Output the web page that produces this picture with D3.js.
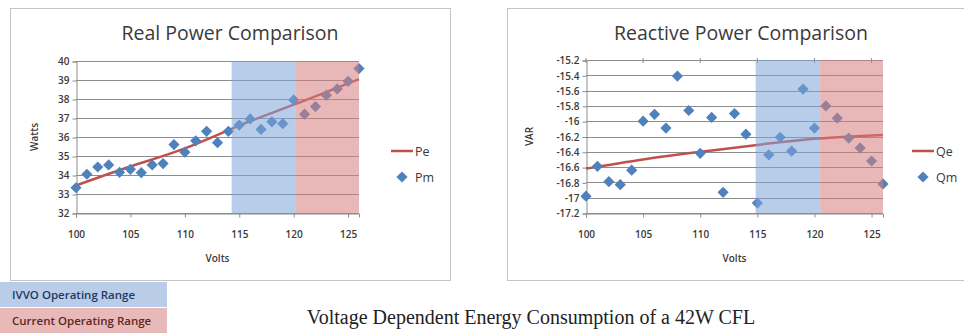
<!DOCTYPE html>
<html lang="en">
<head>
<meta charset="UTF-8">
<title>cfl-power</title>
<script src="https://d3js.org/d3.v7.min.js"></script>
<style>
    body { margin: 0; background: #fff; }
    svg text { font-family: "Open Sans", sans-serif; }
</style>
</head>
<body>
<script>
    // measured points, 1 V steps
    let volts = d3.range(100, 127);
    let pm = [33.33, 34.04, 34.42, 34.53, 34.14, 34.3, 34.12, 34.53, 34.6, 35.6, 35.2, 35.8, 36.3, 35.7,
              36.3, 36.63, 36.95, 36.4, 36.8, 36.7, 37.95, 37.2, 37.6, 38.2, 38.53, 38.93, 39.6];
    let qm = [-16.98, -16.59, -16.79, -16.83, -16.64, -16.0, -15.91, -16.09, -15.41, -15.86, -16.42, -15.95, -16.93, -15.9,
              -16.17, -17.07, -16.44, -16.21, -16.39, -15.58, -16.09, -15.8, -15.96, -16.22, -16.35, -16.52, -16.82];
    // estimated curves
    let estVolts = [100, 105, 110, 115, 120, 126];
    let pe = [33.45, 34.45, 35.4, 36.6, 37.7, 39.05];
    let qe = [-16.62, -16.5, -16.4, -16.31, -16.23, -16.18];

    let xTicks = [100, 105, 110, 115, 120, 125];
    let pTicks = d3.range(32, 41);
    let qTicks = [-15.2, -15.4, -15.6, -15.8, -16, -16.2, -16.4, -16.6, -16.8, -17, -17.2];

    let ivvoRange = [114.3, 120.2];
    let ivvoRangeQ = [114.85, 120.5];

    let blueBand = "#7ea4d7";
    let redBand = "#d57e7e";
    let lineColor = "#c0504d";
    let markColor = "#4f81bd";
    let textColor = "#3a3a3a";

    let svg = d3.select("body").append("svg")
        .attr("width", 964).attr("height", 333);

    function panel(o) {
        let g = svg.append("g");

        g.append("rect")
            .attr("x", o.box[0] + 0.5).attr("y", 8.5)
            .attr("width", o.box[1] - o.box[0]).attr("height", 272)
            .attr("fill", "#fff").attr("stroke", "#c4c4c4");

        let x = d3.scaleLinear().domain([100, 126]).range([o.left, o.right]);
        let y = d3.scaleLinear().domain(o.ydom).range([o.bottom, o.top]);

        g.append("text")
            .attr("x", o.titleX).attr("y", 40)
            .attr("text-anchor", "middle")
            .attr("font-size", 19.5).attr("fill", textColor)
            .text(o.title);

        // horizontal gridlines
        g.append("g").selectAll("line")
            .data(o.yticks).enter().append("line")
            .attr("x1", o.left).attr("x2", o.right)
            .attr("y1", d => Math.round(y(d)) + 0.5).attr("y2", d => Math.round(y(d)) + 0.5)
            .attr("stroke", "#8c8c8c").attr("stroke-width", 1);

        // y axis
        let yAxis = d3.axisLeft(y).tickValues(o.yticks).tickSize(4).tickFormat(d3.format("~g"));
        let ya = g.append("g").attr("transform", "translate(" + (o.left + 0.5) + ",0.5)").call(yAxis);
        ya.select(".domain").attr("stroke", "#8c8c8c");
        ya.selectAll(".tick line").attr("stroke", "#8c8c8c");
        ya.selectAll("text").attr("font-size", 10).attr("font-weight", 600).attr("fill", textColor)
            .text(d => d3.format("~g")(d).replace("−", "-"));

        // x axis
        let xAxis = d3.axisBottom(x).tickValues(xTicks).tickSize(4).tickPadding(13);
        let xa = g.append("g").attr("transform", "translate(0," + (o.bottom + 0.5) + ")").call(xAxis);
        xa.select(".domain").attr("stroke", "#8c8c8c");
        xa.selectAll(".tick line").attr("stroke", "#8c8c8c");
        xa.selectAll("text").attr("font-size", 10).attr("font-weight", 600).attr("fill", textColor);
        if (o.topTicks) {
            g.append("g").selectAll("line").data(xTicks).enter().append("line")
                .attr("x1", d => x(d)).attr("x2", d => x(d))
                .attr("y1", o.top - 2).attr("y2", o.top + 3)
                .attr("stroke", "#8c8c8c");
        }

        // estimated curve
        let line = d3.line()
            .x(d => x(d[0])).y(d => y(d[1]))
            .curve(d3.curveNatural);
        g.append("path")
            .datum(d3.zip(estVolts, o.est))
            .attr("d", line)
            .attr("fill", "none").attr("stroke", lineColor).attr("stroke-width", 2.5);

        // measured points
        let diamond = d3.symbol().type(d3.symbolDiamond2).size(80);
        g.append("g").selectAll("path")
            .data(d3.zip(volts, o.meas)).enter().append("path")
            .attr("d", diamond)
            .attr("transform", d => "translate(" + x(d[0]) + "," + y(d[1]) + ")")
            .attr("fill", markColor);

        // operating ranges drawn over the plot, translucent
        g.append("rect")
            .attr("x", x(o.band[0])).attr("y", o.top)
            .attr("width", x(o.band[1]) - x(o.band[0])).attr("height", o.bottom - o.top)
            .attr("fill", blueBand).attr("opacity", 0.55);
        g.append("rect")
            .attr("x", x(o.band[1])).attr("y", o.top)
            .attr("width", x(126) - x(o.band[1])).attr("height", o.bottom - o.top)
            .attr("fill", redBand).attr("opacity", 0.55);

        // axis titles
        g.append("text")
            .attr("x", (o.left + o.right) / 2).attr("y", 262)
            .attr("text-anchor", "middle").attr("font-size", 10).attr("font-weight", 600).attr("fill", textColor)
            .text("Volts");
        g.append("text")
            .attr("transform", "translate(" + o.yTitleX + "," + ((o.top + o.bottom) / 2) + ") rotate(-90)")
            .attr("text-anchor", "middle").attr("font-size", 10).attr("font-weight", 600).attr("fill", textColor)
            .text(o.yTitle);

        // legend
        let lg = g.append("g").attr("transform", "translate(" + o.legendX + ",0)");
        lg.append("line").attr("x1", 0).attr("x2", 22).attr("y1", 151).attr("y2", 151)
            .attr("stroke", lineColor).attr("stroke-width", 2.5);
        lg.append("text").attr("x", 24).attr("y", 155.5).attr("font-size", 12.5).attr("fill", textColor)
            .text(o.names[0]);
        lg.append("path").attr("d", diamond).attr("transform", "translate(11,177)").attr("fill", markColor);
        lg.append("text").attr("x", 24).attr("y", 181.5).attr("font-size", 12.5).attr("fill", textColor)
            .text(o.names[1]);
    }

    panel({
        box: [10, 450], left: 76, right: 359, top: 61, bottom: 213,
        ydom: [32, 40], yticks: pTicks, est: pe, meas: pm, band: ivvoRange,
        title: "Real Power Comparison", titleX: 230, yTitle: "Watts", yTitleX: 38,
        names: ["Pe", "Pm"], legendX: 391, topTicks: false
    });
    panel({
        box: [507, 990], left: 586, right: 883, top: 60, bottom: 213,
        ydom: [-17.2, -15.2], yticks: qTicks, est: qe, meas: qm, band: ivvoRangeQ,
        title: "Reactive Power Comparison", titleX: 741, yTitle: "VAR", yTitleX: 533,
        names: ["Qe", "Qm"], legendX: 912, topTicks: true
    });

    // range key
    let key = [["IVVO Operating Range", "#b9cde9", "#1f3864"], ["Current Operating Range", "#e8b9b9", "#632523"]];
    svg.append("g").selectAll("rect").data(key).enter().append("rect")
        .attr("x", 0).attr("y", (d, i) => 282 + i * 26)
        .attr("width", 167).attr("height", 25)
        .attr("fill", d => d[1]);
    svg.append("g").selectAll("text").data(key).enter().append("text")
        .attr("x", 12).attr("y", (d, i) => 298.5 + i * 26)
        .attr("font-size", 11.5).attr("font-weight", 600).attr("fill", d => d[2])
        .text(d => d[0]);

    svg.append("text")
        .attr("x", 531).attr("y", 324)
        .attr("text-anchor", "middle")
        .style("font-family", "'Liberation Serif', serif")
        .attr("font-size", 20).attr("fill", "#222")
        .text("Voltage Dependent Energy Consumption of a 42W CFL");
</script>
</body>
</html>
